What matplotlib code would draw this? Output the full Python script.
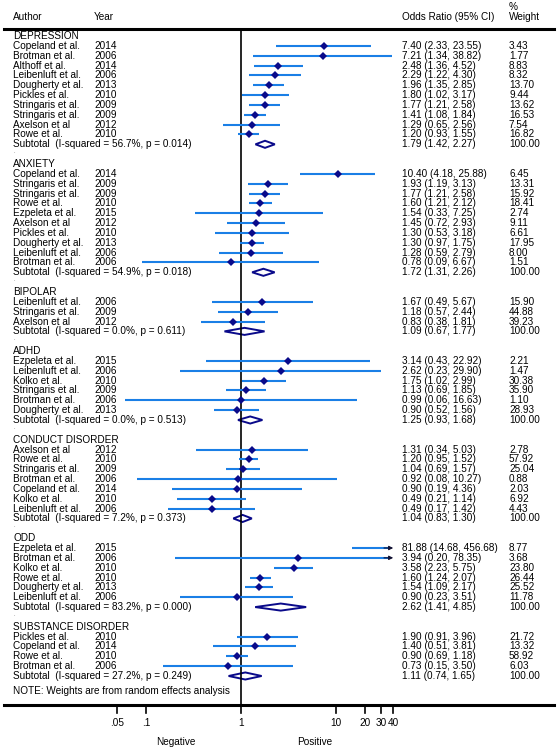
import numpy as np
import matplotlib.pyplot as plt
from matplotlib.patches import Polygon
import matplotlib.transforms as mtransforms

plt.rcParams['font.family'] = ['Liberation Sans', 'DejaVu Sans']

# ---------------- data ----------------
dep_name = ["Copeland et al.", "Brotman et al.", "Althoff et al.", "Leibenluft et al.", "Dougherty et al.",
            "Pickles et al.", "Stringaris et al.", "Stringaris et al.", "Axelson et al", "Rowe et al."]
dep_year = [2014, 2006, 2014, 2006, 2013, 2010, 2009, 2009, 2012, 2010]
dep_or = [7.40, 7.21, 2.48, 2.29, 1.96, 1.80, 1.77, 1.41, 1.29, 1.20]
dep_lo = [2.33, 1.34, 1.36, 1.22, 1.35, 1.02, 1.21, 1.08, 0.65, 0.93]
dep_hi = [23.55, 38.82, 4.52, 4.30, 2.85, 3.17, 2.58, 1.84, 2.56, 1.55]
dep_w = [3.43, 1.77, 8.83, 8.32, 13.70, 9.44, 13.62, 16.53, 7.54, 16.82]
dep_sub = [1.79, 1.42, 2.27, 56.7, 0.014]

anx_name = ["Copeland et al.", "Stringaris et al.", "Stringaris et al.", "Rowe et al.", "Ezpeleta et al.",
            "Axelson et al", "Pickles et al.", "Dougherty et al.", "Leibenluft et al.", "Brotman et al."]
anx_year = [2014, 2009, 2009, 2010, 2015, 2012, 2010, 2013, 2006, 2006]
anx_or = [10.40, 1.93, 1.77, 1.60, 1.54, 1.45, 1.30, 1.30, 1.28, 0.78]
anx_lo = [4.18, 1.19, 1.21, 1.21, 0.33, 0.72, 0.53, 0.97, 0.59, 0.09]
anx_hi = [25.88, 3.13, 2.58, 2.12, 7.25, 2.93, 3.18, 1.75, 2.79, 6.67]
anx_w = [6.45, 13.31, 15.92, 18.41, 2.74, 9.11, 6.61, 17.95, 8.00, 1.51]
anx_sub = [1.72, 1.31, 2.26, 54.9, 0.018]

bip_name = ["Leibenluft et al.", "Stringaris et al.", "Axelson et al"]
bip_year = [2006, 2009, 2012]
bip_or = [1.67, 1.18, 0.83]
bip_lo = [0.49, 0.57, 0.38]
bip_hi = [5.67, 2.44, 1.81]
bip_w = [15.90, 44.88, 39.23]
bip_sub = [1.09, 0.67, 1.77, 0.0, 0.611]

adhd_name = ["Ezpeleta et al.", "Leibenluft et al.", "Kolko et al.", "Stringaris et al.", "Brotman et al.",
             "Dougherty et al."]
adhd_year = [2015, 2006, 2010, 2009, 2006, 2013]
adhd_or = [3.14, 2.62, 1.75, 1.13, 0.99, 0.90]
adhd_lo = [0.43, 0.23, 1.02, 0.69, 0.06, 0.52]
adhd_hi = [22.92, 29.90, 2.99, 1.85, 16.63, 1.56]
adhd_w = [2.21, 1.47, 30.38, 35.90, 1.10, 28.93]
adhd_sub = [1.25, 0.93, 1.68, 0.0, 0.513]

cd_name = ["Axelson et al", "Rowe et al.", "Stringaris et al.", "Brotman et al.", "Copeland et al.",
           "Kolko et al.", "Leibenluft et al."]
cd_year = [2012, 2010, 2009, 2006, 2014, 2010, 2006]
cd_or = [1.31, 1.20, 1.04, 0.92, 0.90, 0.49, 0.49]
cd_lo = [0.34, 0.95, 0.69, 0.08, 0.19, 0.21, 0.17]
cd_hi = [5.03, 1.52, 1.57, 10.27, 4.36, 1.14, 1.42]
cd_w = [2.78, 57.92, 25.04, 0.88, 2.03, 6.92, 4.43]
cd_sub = [1.04, 0.83, 1.30, 7.2, 0.373]

odd_name = ["Ezpeleta et al.", "Brotman et al.", "Kolko et al.", "Rowe et al.", "Dougherty et al.",
            "Leibenluft et al."]
odd_year = [2015, 2006, 2010, 2010, 2013, 2006]
odd_or = [81.88, 3.94, 3.58, 1.60, 1.54, 0.90]
odd_lo = [14.68, 0.20, 2.23, 1.24, 1.09, 0.23]
odd_hi = [456.68, 78.35, 5.75, 2.07, 2.17, 3.51]
odd_w = [8.77, 3.68, 23.80, 26.44, 25.52, 11.78]
odd_sub = [2.62, 1.41, 4.85, 83.2, 0.000]

sub_name = ["Pickles et al.", "Copeland et al.", "Rowe et al.", "Brotman et al."]
sub_year = [2010, 2014, 2010, 2006]
sub_or = [1.90, 1.40, 0.90, 0.73]
sub_lo = [0.91, 0.51, 0.69, 0.15]
sub_hi = [3.96, 3.81, 1.18, 3.50]
sub_w = [21.72, 13.32, 58.92, 6.03]
sub_sub = [1.11, 0.74, 1.65, 27.2, 0.249]

groups = [
    ("DEPRESSION", dep_name, dep_year, dep_or, dep_lo, dep_hi, dep_w, dep_sub),
    ("ANXIETY", anx_name, anx_year, anx_or, anx_lo, anx_hi, anx_w, anx_sub),
    ("BIPOLAR", bip_name, bip_year, bip_or, bip_lo, bip_hi, bip_w, bip_sub),
    ("ADHD", adhd_name, adhd_year, adhd_or, adhd_lo, adhd_hi, adhd_w, adhd_sub),
    ("CONDUCT DISORDER", cd_name, cd_year, cd_or, cd_lo, cd_hi, cd_w, cd_sub),
    ("ODD", odd_name, odd_year, odd_or, odd_lo, odd_hi, odd_w, odd_sub),
    ("SUBSTANCE DISORDER", sub_name, sub_year, sub_or, sub_lo, sub_hi, sub_w, sub_sub),
]

ticks = [0.05, 0.1, 1, 10, 20, 30, 40]
tick_labels = [".05", ".1", "1", "10", "20", "30", "40"]
xmax_clip = 40

# ---------------- layout ----------------
W, H = 558, 750
row_h = 9.846
y0 = 36.0
ppd = 95.0   # pixels per decade
x1 = 241.0   # pixel of OR = 1

def py(p):   # pixel y -> row units
    return (p - y0) / row_h

fig = plt.figure(figsize=(W / 100, H / 100), dpi=100)
ax = fig.add_axes([0, 0, 1, 1])
ax.set_xscale('log')
ax.set_xlim(10 ** ((0 - x1) / ppd), 10 ** ((W - x1) / ppd))
ax.set_ylim(py(H), py(0))
ax.axis('off')

tr = mtransforms.blended_transform_factory(ax.transAxes, ax.transData)
fs = 7.2
ci_col = '#1a7fe6'
pt_col = '#0a0a8a'

def col(px):
    return px / W

x_auth, x_year, x_or, x_w = col(13), col(94), col(402), col(509)

# header
ax.text(x_auth, py(17), "Author", transform=tr, fontsize=fs, va='center')
ax.text(x_year, py(17), "Year", transform=tr, fontsize=fs, va='center')
ax.text(x_or, py(17), "Odds Ratio (95% CI)", transform=tr, fontsize=fs, va='center')
ax.text(x_w, py(6.7), "%", transform=tr, fontsize=fs, va='center')
ax.text(x_w, py(17.3), "Weight", transform=tr, fontsize=fs, va='center')

top, bot = py(28.5), py(705)
ax.axhline(top, xmin=col(4), xmax=col(554), color='black', lw=2.2)
ax.axhline(bot, xmin=col(4), xmax=col(554), color='black', lw=2.2)
ax.plot([1, 1], [top, bot], color='black', lw=1.2)

r = 0
for gname, names, years, ors, los, his, ws, sub in groups:
    ax.text(x_auth, r, gname, transform=tr, fontsize=fs, va='center')
    r += 1
    for n, yr, o, lo, hi, w in zip(names, years, ors, los, his, ws):
        ax.text(x_auth, r, n, transform=tr, fontsize=fs, va='center')
        ax.text(x_year, r, str(yr), transform=tr, fontsize=fs, va='center')
        ax.text(x_or, r, f"{o:.2f} ({lo:.2f}, {hi:.2f})", transform=tr, fontsize=fs, va='center')
        ax.text(x_w, r, f"{w:.2f}", transform=tr, fontsize=fs, va='center')
        if hi > xmax_clip:
            ax.plot([lo, xmax_clip * 0.93], [r, r], color=ci_col, lw=1.5, solid_capstyle='butt')
            ax.annotate('', xy=(xmax_clip, r), xytext=(xmax_clip * 0.8, r),
                        arrowprops=dict(arrowstyle='-|>', color='#111133', lw=0.8,
                                        mutation_scale=6, shrinkA=0, shrinkB=0))
        else:
            ax.plot([lo, hi], [r, r], color=ci_col, lw=1.5, solid_capstyle='butt')
        if o <= xmax_clip:
            ax.plot(o, r, marker='D', color=pt_col, markersize=4.3, markeredgewidth=0)
        r += 1
    so, slo, shi, i2, p = sub
    ax.text(x_auth, r, f"Subtotal  (I-squared = {i2:.1f}%, p = {p:.3f})", transform=tr,
            fontsize=fs, va='center')
    ax.text(x_or, r, f"{so:.2f} ({slo:.2f}, {shi:.2f})", transform=tr, fontsize=fs, va='center')
    ax.text(x_w, r, "100.00", transform=tr, fontsize=fs, va='center')
    hh = 0.36
    ax.add_patch(Polygon([(slo, r), (so, r - hh), (shi, r), (so, r + hh)], closed=True,
                         facecolor='none', edgecolor=pt_col, lw=1.4))
    r += 1
    if gname != "SUBSTANCE DISORDER":
        ax.text(x_auth, r - 0.25, ".", transform=tr, fontsize=4, va='center', color='#555555')
        r += 1

ax.text(x_auth, r + 0.5, "NOTE: Weights are from random effects analysis", transform=tr,
        fontsize=fs, va='center')

# axis ticks
tick_end = py(713)
for t, lab in zip(ticks, tick_labels):
    ax.plot([t, t], [bot, tick_end], color='black', lw=1.2)
    ax.text(t, py(723), lab, fontsize=fs, ha='center', va='center')

ax.text(10 ** ((176 - x1) / ppd), py(742), "Negative", fontsize=fs, ha='center', va='center')
ax.text(10 ** ((315 - x1) / ppd), py(742), "Positive", fontsize=fs, ha='center', va='center')

fig.savefig("out.png", dpi=100)
